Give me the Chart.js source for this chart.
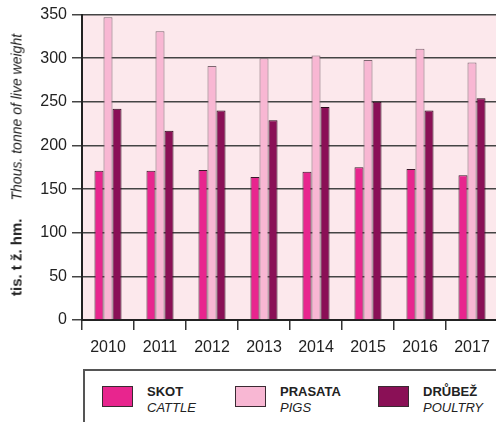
<!DOCTYPE html>
<html>
<head>
<meta charset="utf-8">
<script src="https://cdn.jsdelivr.net/npm/chart.js@4/dist/chart.umd.min.js"></script>
<style>
  html, body { margin: 0; padding: 0; background: #fff; }
  body { width: 496px; height: 422px; overflow: hidden; position: relative; font-family: "Liberation Sans", Arial, Helvetica, sans-serif; color: #222; }
  #wrap { position: absolute; left: 0; top: 0; width: 500px; height: 365px; }
  #ytitle { position: absolute; left: 16px; top: 165px; transform: translate(-50%, -50%) rotate(-90deg); white-space: nowrap; font-size: 14px; color: #222; }
  #ytitle b { margin-right: 18px; font-size: 15px; }
  #legend { position: absolute; left: 83px; top: 369px; width: 430px; height: 80px; border: 2px solid #555; box-sizing: border-box; }
  .item { position: absolute; top: 13px; }
  .sw { position: absolute; left: 0; top: 2px; width: 31px; height: 21px; border: 1px solid #3a2a32; box-sizing: border-box; }
  .lbl { position: absolute; left: 45px; top: 0; font-size: 13px; line-height: 16px; white-space: nowrap; color: #222; }
  .lbl b { display: block; }
  .lbl i { display: block; }
</style>
</head>
<body>
<div id="wrap"><canvas id="c"></canvas></div>
<div id="ytitle"><b>tis. t ž. hm.</b><i>Thous. tonne of live weight</i></div>
<div id="legend"></div>
<script>
const years = ['2010','2011','2012','2013','2014','2015','2016','2017'];
const cattle  = [171, 171, 172, 164, 170, 175, 173, 166];
const pigs    = [347, 331, 291, 300, 303, 298, 311, 295];
const poultry = [242, 217, 240, 229, 244, 250, 240, 254];
const seriesNames = [['SKOT','CATTLE'], ['PRASATA','PIGS'], ['DRŮBEŽ','POULTRY']];
const yTicks = [0, 50, 100, 150, 200, 250, 300, 350];

const colors = ['#E8258E', '#F8B7D3', '#8A1056'];
const borders = ['#3a1a2a', '#7d6670', '#2a0a1a'];

const bgPlugin = {
  id: 'bg',
  beforeDraw(chart) {
    const {ctx, chartArea: a} = chart;
    ctx.save();
    ctx.fillStyle = '#FCE8EC';
    ctx.fillRect(a.left, a.top, a.right - a.left, a.bottom - a.top);
    ctx.restore();
  }
};

const font = { family: '"Liberation Sans", Arial, Helvetica, sans-serif', size: 16 };

new Chart(document.getElementById('c'), {
  type: 'bar',
  data: {
    labels: years,
    datasets: [cattle, pigs, poultry].map((d, i) => ({
      label: seriesNames[i][0],
      data: d,
      backgroundColor: colors[i],
      borderColor: borders[i],
      borderWidth: 1,
      barPercentage: 1,
      categoryPercentage: 0.52
    }))
  },
  options: {
    responsive: true,
    maintainAspectRatio: false,
    animation: false,
    events: [],
    layout: { padding: { left: 0, right: 2, top: 14, bottom: 0 } },
    plugins: { legend: { display: false }, tooltip: { enabled: false } },
    scales: {
      x: {
        offset: true,
        grid: { offset: true, drawOnChartArea: false, drawTicks: true, tickLength: 10, color: '#333', lineWidth: 1.5 },
        border: { display: true, color: '#222', width: 2 },
        ticks: { color: '#222', font: font, padding: 8, maxRotation: 0, autoSkip: false },
        afterFit(s) { s.height = 45; }
      },
      y: {
        min: 0, max: 350,
        afterBuildTicks(s) { s.ticks = yTicks.map(v => ({ value: v })); },
        grid: { color: '#444', lineWidth: 1.5, tickLength: 10, drawTicks: true },
        border: { display: true, color: '#222', width: 2 },
        ticks: { color: '#222', font: font, padding: 5 },
        afterFit(s) { s.width = 82; }
      }
    }
  },
  plugins: [bgPlugin]
});

const legend = document.getElementById('legend');
const lefts = [17, 150, 293];
seriesNames.forEach((n, i) => {
  const it = document.createElement('div');
  it.className = 'item';
  it.style.left = lefts[i] + 'px';
  it.innerHTML = '<div class="sw" style="background:' + colors[i] + '"></div>' +
    '<div class="lbl"><b>' + n[0] + '</b><i>' + n[1] + '</i></div>';
  legend.appendChild(it);
});
</script>
</body>
</html>
